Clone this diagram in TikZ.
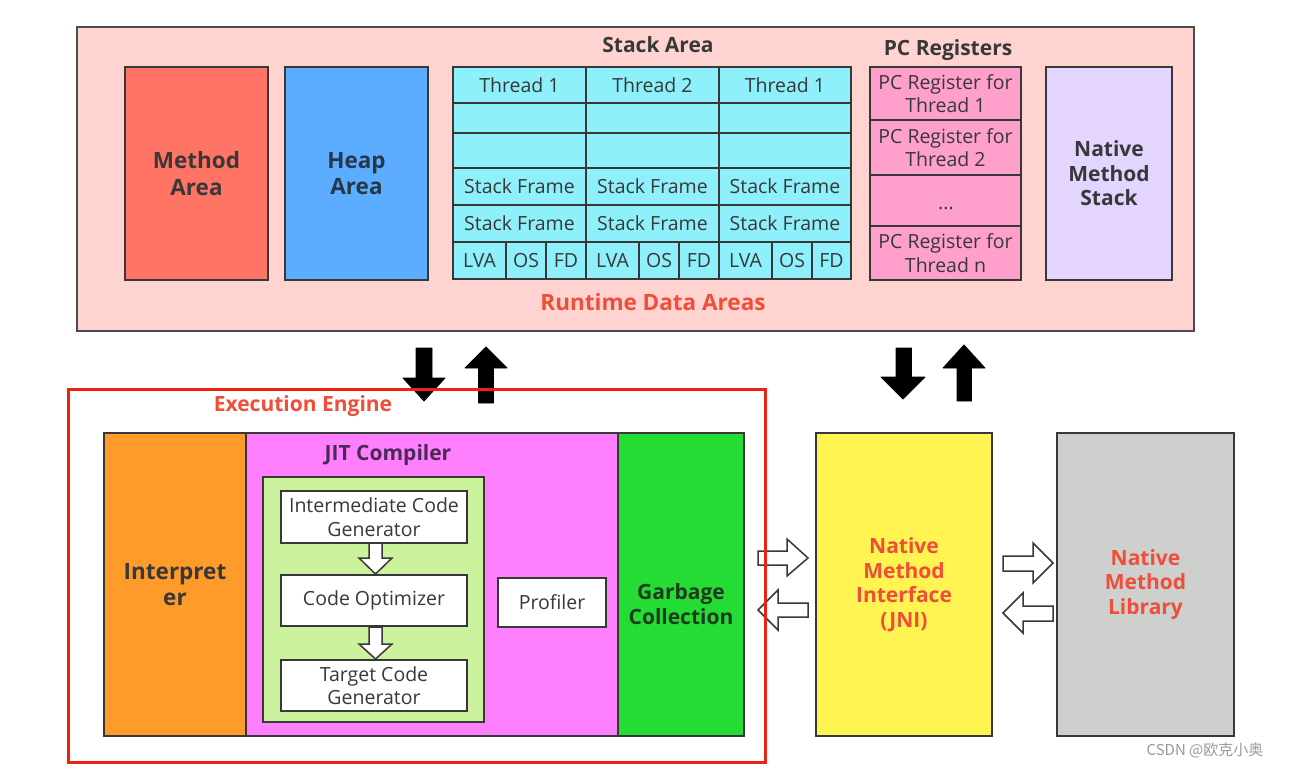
\documentclass[tikz,border=0pt]{standalone}
\usepackage{fontspec}
\setmainfont{Open Sans}
\newfontfamily\cjkfont{Noto Sans CJK SC}
\definecolor{bgpink}{HTML}{FFD3CF}
\definecolor{meth}{HTML}{FF7464}
\definecolor{heap}{HTML}{5CADFF}
\definecolor{cyanc}{HTML}{8DF0FA}
\definecolor{pcpink}{HTML}{FF9FCC}
\definecolor{nms}{HTML}{E3D5FF}
\definecolor{lblred}{HTML}{F04D3A}
\definecolor{eered}{HTML}{EE2211}
\definecolor{interp}{HTML}{FF9B2B}
\definecolor{jit}{HTML}{FF80FF}
\definecolor{gc}{HTML}{24DC34}
\definecolor{jitin}{HTML}{CDF29D}
\definecolor{jni}{HTML}{FFF452}
\definecolor{lib}{HTML}{CED0CE}
\definecolor{ink}{HTML}{383838}
\definecolor{heapink}{HTML}{27374A}
\definecolor{jitink}{HTML}{4A2A55}
\definecolor{gcink}{HTML}{1E3A1E}
\newcommand\bx[7]{\node[bx,#6,minimum width={(#4-#2)*1pt},minimum height={(#5-#3)*1pt}] (#1) at (#2,#3) {#7};}
\begin{document}
\begin{tikzpicture}[x=1pt,y=-1pt,
  bx/.style={draw=ink, line width=1.6pt, inner sep=0pt, outer sep=0pt, anchor=north west, align=center, text=ink},
  big/.style={font=\fontsize{21}{24.5}\selectfont\bfseries},
  bigger/.style={font=\fontsize{22.5}{26.5}\selectfont\bfseries},
  mid/.style={font=\fontsize{21}{24}\selectfont\bfseries},
  reg/.style={font=\fontsize{19.5}{23.5}\selectfont},
  lbl/.style={inner sep=0pt, align=center},
  blk/.style={fill=black, draw=black, line width=0.8pt, line join=round},
  hol/.style={fill=white, draw=ink, line width=1.5pt, line join=miter}]
\useasboundingbox (0,0) rectangle (1289,768);
\fill[white] (0,0) rectangle (1289,768);

% Runtime data areas
\bx{rda}{77}{27}{1194}{331}{fill=bgpink, draw=black!70}{}
\bx{method}{125}{67}{268}{280}{fill=meth,bigger}{Method\\Area}
\bx{heap}{285}{67}{428}{280}{fill=heap,bigger,text=heapink}{Heap\\Area}
\node[lbl,mid,text=ink] (stacklbl) at (658,45) {Stack Area};
\node[lbl,mid,text=ink] (pclbl) at (948,50) {PC Registers};
\node[lbl,font=\fontsize{22.5}{26}\selectfont\bfseries,text=lblred] (rdalbl) at (653,302) {Runtime Data Areas};

% stack grid
\foreach \xa/\xb/\c [count=\i] in {453/586/Thread 1, 586/719/Thread 2, 719/851/Thread 1}{
  \bx{t\i}{\xa}{67}{\xb}{103}{fill=cyanc,reg}{\c}
  \bx{e\i a}{\xa}{103}{\xb}{133}{fill=cyanc}{}
  \bx{e\i b}{\xa}{133}{\xb}{168}{fill=cyanc}{}
  \bx{sf\i a}{\xa}{168}{\xb}{205}{fill=cyanc,reg}{Stack Frame}
  \bx{sf\i b}{\xa}{205}{\xb}{242}{fill=cyanc,reg}{Stack Frame}
}
\foreach \xa/\xb/\xc/\xd [count=\i] in {453/506/546/586, 586/639/679/719, 719/772/812/851}{
  \bx{lva\i}{\xa}{242}{\xb}{279}{fill=cyanc,reg}{LVA}
  \bx{os\i}{\xb}{242}{\xc}{279}{fill=cyanc,reg}{OS}
  \bx{fd\i}{\xc}{242}{\xd}{279}{fill=cyanc,reg}{FD}
}
% PC registers
\bx{pc1}{870}{67}{1021}{120}{fill=pcpink,reg}{PC Register for\\Thread 1}
\bx{pc2}{870}{120}{1021}{175}{fill=pcpink,reg}{PC Register for\\Thread 2}
\bx{pc3}{870}{175}{1021}{226}{fill=pcpink}{}
\node[lbl,reg,text=ink] (dots) at (946,208) {...};
\bx{pc4}{870}{226}{1021}{280}{fill=pcpink,reg}{PC Register for\\Thread n}
\bx{nms}{1046}{67}{1172}{280}{fill=nms,big}{Native\\Method\\Stack}

% black arrows
\draw[blk] (416,348) -- (432,348) -- (432,378) -- (445,378) -- (424,401) -- (403,378) -- (416,378) -- cycle;
\draw[blk] (486,347) -- (507,368) -- (493.5,368) -- (493.5,403) -- (478.5,403) -- (478.5,368) -- (465,368) -- cycle;
\draw[blk] (896,348) -- (911.5,348) -- (911.5,377) -- (925,377) -- (903,399) -- (881,377) -- (896,377) -- cycle;
\draw[blk] (964,345) -- (985,368) -- (971.5,368) -- (971.5,401) -- (957,401) -- (957,368) -- (943,368) -- cycle;

% execution engine contents
\bx{interp}{104}{433}{246}{736}{fill=interp,bigger}{Interpret\\er}
\bx{jit}{246}{433}{618}{736}{fill=jit}{}
\bx{gc}{618}{433}{744}{736}{fill=gc}{}
\node[lbl,big,text=gcink] (gclbl) at (681,604) {Garbage\\Collection};
\node[lbl,mid,text=jitink] (jitlbl) at (388,455) {JIT Compiler};
\bx{jitin}{263}{477}{484}{722}{fill=jitin, line width=1.2pt}{}
\bx{icg}{281}{491}{467}{543}{fill=white,reg}{Intermediate Code\\Generator}
\bx{co}{281}{575}{467}{626}{fill=white,reg}{Code Optimizer}
\bx{tcg}{281}{660}{467}{711}{fill=white,reg}{Target Code\\Generator}
\bx{prof}{498}{578}{606}{627}{fill=white,reg}{Profiler}
% hollow down arrows
\draw[hol] (369,543) -- (382,543) -- (382,558) -- (392,558) -- (375.5,574) -- (359,558) -- (369,558) -- cycle;
\draw[hol] (369,627) -- (382,627) -- (382,644) -- (392,644) -- (375.5,659) -- (359,644) -- (369,644) -- cycle;

% native interface and library
\bx{jni}{816}{433}{992}{736}{fill=jni,big,text=lblred}{Native\\Method\\Interface\\(JNI)}
\bx{lib}{1057}{433}{1234}{736}{fill=lib,big,text=lblred}{Native\\Method\\Library}

% hollow horizontal arrows
\draw[hol] (758,551) -- (787,551) -- (787,539) -- (808,558) -- (787,576) -- (787,565) -- (758,565) -- cycle;
\draw[hol] (758,610) -- (778,590) -- (778,603) -- (808,603) -- (808,617) -- (778,617) -- (778,630) -- cycle;
\draw[hol] (1003,556) -- (1033,556) -- (1033,543) -- (1053,563) -- (1033,583) -- (1033,571) -- (1003,571) -- cycle;
\draw[hol] (1003,613) -- (1023,593) -- (1023,606) -- (1053,606) -- (1053,621) -- (1023,621) -- (1023,633) -- cycle;

% execution engine frame
\draw[draw=eered, line width=3pt] (68,389) rectangle (765,762);
\node[lbl,mid,text=lblred] (eelbl) at (303,406) {Execution Engine};

% watermark
\node[lbl,text=black!40,font=\cjkfont\fontsize{15}{18}\selectfont] (wm) at (1205,750) {CSDN @欧克小奥};
\end{tikzpicture}
\end{document}
